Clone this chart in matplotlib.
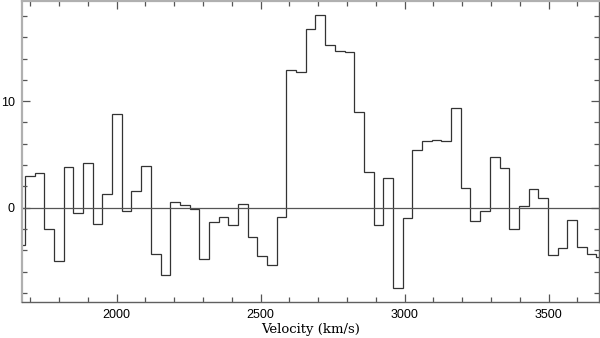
import numpy as np
import matplotlib.pyplot as plt
from matplotlib.ticker import MultipleLocator

# Channel grid (km/s): first full channel edge and channel width
v_start = 1681.5
dv = 33.63

# Flux density per channel (mJy), left to right
flux = [-3.5,
        2.94, 3.22, -2.03, -5.0, 3.78, -0.53, 4.16, -1.56, 1.25, 8.84,
        -0.34, 1.53, 3.9, -4.38, -6.34, 0.5, 0.22, -0.16, -4.78, -1.31,
        -0.9, -1.66, 0.34, -2.78, -4.5, -5.38, -0.88, 12.88, 12.78, 16.8,
        18.1, 15.3, 14.75, 14.66, 9.03, 3.38, -1.66, 2.81, -7.53, -1.0,
        5.38, 6.22, 6.4, 6.22, 9.38, 1.81, -1.28, -0.31, 4.75, 3.69,
        -2.03, 0.13, 1.72, 0.91, -4.44, -3.81, -1.16, -3.72, -4.38, -4.66]

edges = v_start + dv * np.arange(-1, len(flux))

fig = plt.figure(figsize=(6, 3.38), dpi=100)
ax = fig.add_axes([0.036, 0.1065, 0.962, 0.8905])

ax.stairs(flux, edges, color='#333333', linewidth=0.9)
ax.axhline(0, color='#555555', linewidth=0.9)

ax.set_xlim(1670, 3674)
ax.set_ylim(-8.85, 19.4)

ax.xaxis.set_major_locator(MultipleLocator(500))
ax.xaxis.set_minor_locator(MultipleLocator(100))
ax.yaxis.set_major_locator(MultipleLocator(10))
ax.yaxis.set_minor_locator(MultipleLocator(2))

ax.tick_params(which='both', direction='in', top=True, right=True,
               colors='#555555', width=0.9, labelcolor='black',
               labelsize=9, pad=5)
ax.tick_params(which='major', length=6)
ax.tick_params(which='minor', length=3.5)
for lab in ax.get_xticklabels() + ax.get_yticklabels():
    lab.set_family('Liberation Sans')

for side in ['top', 'left']:
    ax.spines[side].set_color('#b0b0b0')
    ax.spines[side].set_linewidth(1.6)
for side in ['bottom', 'right']:
    ax.spines[side].set_color('#606060')
    ax.spines[side].set_linewidth(1.0)

ax.set_xlabel('Velocity (km/s)', family='DejaVu Serif', fontsize=9.5,
              labelpad=1.5)

fig.savefig('out.png', dpi=100)
